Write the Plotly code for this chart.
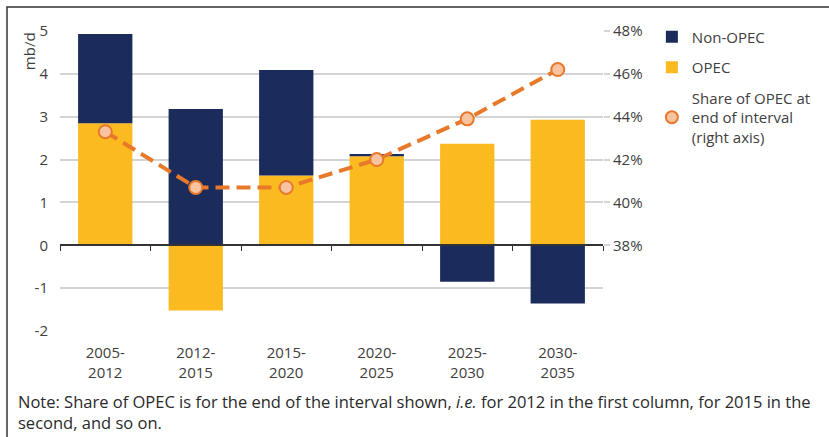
import plotly.graph_objects as go

categories = ["2005-<br>2012", "2012-<br>2015", "2015-<br>2020", "2020-<br>2025", "2025-<br>2030", "2030-<br>2035"]
opec = [2.85, -1.52, 1.63, 2.08, 2.37, 2.93]
non_opec = [2.08, 3.18, 2.46, 0.05, -0.85, -1.36]
share_opec = [43.3, 40.7, 40.7, 42.0, 43.9, 46.2]
left_ticks = [-2, -1, 0, 1, 2, 3, 4, 5]
left_labels = ["-2", "-1", "0", "1", "2", "3", "4", "5"]
right_ticks = [38, 40, 42, 44, 46, 48]
right_labels = ["38%", "40%", "42%", "44%", "46%", "48%"]

NAVY = "#1b2b5c"
YELLOW = "#fbba1f"
ORANGE = "#e8792b"
PEACH = "#f8c39e"
TXT = "#404040"
GRID = "#d4d4d4"
FONT = "Open Sans"

x_idx = list(range(len(categories)))

fig = go.Figure()
fig.add_trace(go.Bar(x=x_idx, y=opec, name="OPEC", legendrank=2, legendgroup="b",
                     marker=dict(color=YELLOW, line=dict(width=0))))
fig.add_trace(go.Bar(x=x_idx, y=non_opec, name="Non-OPEC", legendrank=1, legendgroup="a",
                     marker=dict(color=NAVY, line=dict(width=0))))
fig.add_trace(go.Scatter(
    x=x_idx, y=share_opec, yaxis="y2", mode="lines+markers", showlegend=False,
    line=dict(color=ORANGE, width=4, dash="14px,7px"),
    marker=dict(size=13, color=PEACH, line=dict(color=ORANGE, width=2)),
))
# legend entry for the share series (marker only, as in the reference)
fig.add_trace(go.Scatter(
    x=[None], y=[None], yaxis="y2", mode="markers", legendrank=3, legendgroup="c",
    name="Share of OPEC at<br>end of interval<br>(right axis)",
    marker=dict(size=13, color=PEACH, line=dict(color=ORANGE, width=2)),
))
# invisible trace for the zero-line axis with boundary ticks
fig.add_trace(go.Scatter(x=[-0.5, 5.5], y=[0, 0], xaxis="x2", mode="lines",
                         line=dict(width=0), showlegend=False, hoverinfo="skip"))

fig.update_layout(
    width=829, height=437,
    margin=dict(l=60, r=226, t=31, b=106, autoexpand=False),
    paper_bgcolor="white", plot_bgcolor="rgba(0,0,0,0)",
    barmode="relative", bargap=0.4,
    font=dict(family=FONT, color=TXT, size=15),
    showlegend=True,
    legend=dict(x=1.09, y=1.035, xanchor="left", yanchor="top",
                font=dict(size=15, color=TXT), tracegroupgap=8,
                itemsizing="constant", traceorder="grouped", bgcolor="rgba(0,0,0,0)"),
    xaxis=dict(range=[-0.5, 5.5], tickmode="array", tickvals=x_idx, ticktext=categories,
               showgrid=False, zeroline=False, showline=False, ticks="outside",
               ticklen=8, tickcolor="rgba(0,0,0,0)", automargin=False,
               tickfont=dict(size=15, color=TXT)),
    xaxis2=dict(range=[-0.5, 5.5], overlaying="x", anchor="free", position=2 / 7,
                side="bottom", showline=True, linecolor="#333333", linewidth=1.5,
                tickmode="array", tickvals=[-0.5, 0.5, 1.5, 2.5, 3.5, 4.5, 5.5],
                ticks="outside", ticklen=5, tickcolor="#333333", showticklabels=False,
                showgrid=False, zeroline=False, automargin=False),
    yaxis=dict(range=[-2, 5], tickmode="array", tickvals=left_ticks, ticktext=left_labels,
               showgrid=True, gridcolor=GRID, gridwidth=1.5, zeroline=False, showline=False,
               ticks="outside", ticklen=8, tickcolor="rgba(0,0,0,0)", automargin=False,
               tickfont=dict(size=15, color=TXT)),
    yaxis2=dict(range=[34, 48], overlaying="y", side="right", tickmode="array",
                tickvals=right_ticks, ticktext=right_labels, showgrid=False,
                zeroline=False, showline=False, ticks="outside", ticklen=6, tickcolor=GRID,
                tickwidth=1.5, automargin=False, tickfont=dict(size=15, color=TXT)),
)

fig.add_annotation(text="mb/d", x=-0.057, y=1.003, xref="paper", yref="paper",
                   textangle=-90, showarrow=False, xanchor="center", yanchor="top",
                   font=dict(size=15, color=TXT))
fig.add_annotation(text="Note: Share of OPEC is for the end of the interval shown, <i>i.e.</i> for 2012 in the first column, for 2015 in the<br>second, and so on.",
                   x=-0.081, y=-0.19, xref="paper", yref="paper", showarrow=False,
                   xanchor="left", yanchor="top", align="left",
                   font=dict(size=16.5, color="#2a2a2a"))
fig.add_shape(type="rect", xref="paper", yref="paper", x0=-0.0976, x1=1.5, y0=-0.5, y1=1.08,
              line=dict(color="#333333", width=1.5), fillcolor="rgba(0,0,0,0)", layer="below")

fig.write_html("out.html", config={"displayModeBar": False},
               post_script="document.body.style.margin='0';")
